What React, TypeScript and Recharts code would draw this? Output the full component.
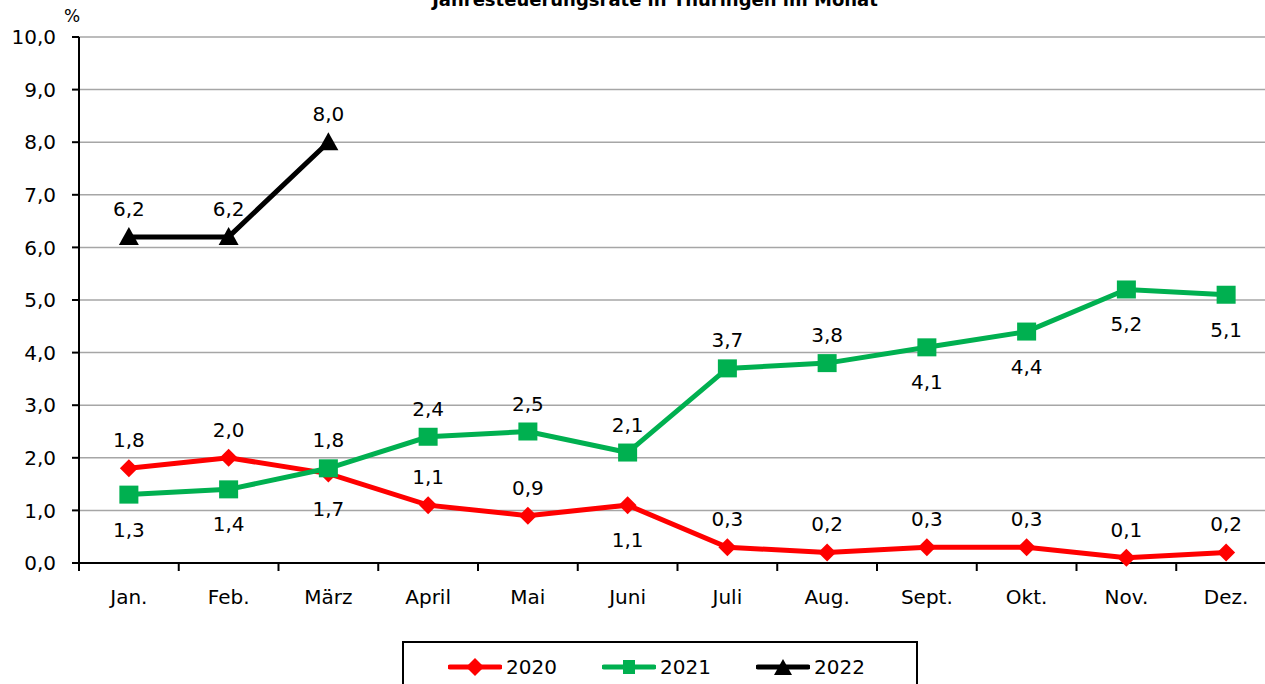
import React from "react";
import { LineChart, Line, XAxis, YAxis, CartesianGrid, LabelList } from "recharts";

// Werte
const monate = ["Jan.", "Feb.", "März", "April", "Mai", "Juni", "Juli", "Aug.", "Sept.", "Okt.", "Nov.", "Dez."];
const werte2020 = [1.8, 2.0, 1.7, 1.1, 0.9, 1.1, 0.3, 0.2, 0.3, 0.3, 0.1, 0.2];
const werte2021 = [1.3, 1.4, 1.8, 2.4, 2.5, 2.1, 3.7, 3.8, 4.1, 4.4, 5.2, 5.1];
const werte2022 = [6.2, 6.2, 8.0];
const yTicks = [0, 1, 2, 3, 4, 5, 6, 7, 8, 9, 10];

// wo das Datenlabel steht (o = oben, u = unten)
const lage2020 = ["o", "o", "u", "o", "o", "u", "o", "o", "o", "o", "o", "o"];
const lage2021 = ["u", "u", "o", "o", "o", "o", "o", "o", "u", "u", "u", "u"];
const lage2022 = ["o", "o", "o"];

const data = monate.map((m, i) => ({
  monat: m,
  j2020: werte2020[i],
  j2021: werte2021[i],
  j2022: i < werte2022.length ? werte2022[i] : null,
}));

const FONT = "'DejaVu Sans', sans-serif";
const CHART_W = 1290;
const CHART_H = 684;
const M = { top: 37, right: 14, bottom: 61, left: 19 };
const Y_W = 60;
const PLOT_W = CHART_W - M.left - M.right - Y_W;
const STEP = PLOT_W / monate.length;

const fmt = (v: number) => v.toFixed(1).replace(".", ",");

const XTick = (props: any) => {
  const { x, y, payload, index } = props;
  return (
    <g>
      <line x1={x - STEP / 2} x2={x - STEP / 2} y1={y} y2={y + 8} stroke="#000" strokeWidth={2} />
      {index === monate.length - 1 && (
        <line x1={x + STEP / 2} x2={x + STEP / 2} y1={y} y2={y + 8} stroke="#000" strokeWidth={2} />
      )}
      <text x={x} y={y + 34} textAnchor="middle" dominantBaseline="central" fontSize={20} fontFamily={FONT} fill="#000">
        {payload.value}
      </text>
    </g>
  );
};

const makeLabel = (lage: string[]) => (props: any) => {
  const { x, y, value, index } = props;
  if (value == null) return null;
  const oben = lage[index] === "o";
  return (
    <text
      x={x}
      y={oben ? y - 28 : y + 35}
      textAnchor="middle"
      dominantBaseline="central"
      fontSize={20}
      fontFamily={FONT}
      fill="#000"
    >
      {fmt(value)}
    </text>
  );
};

const Raute = (props: any) => {
  const { cx, cy } = props;
  if (cy == null) return null;
  const r = 9;
  return <polygon points={`${cx},${cy - r} ${cx + r},${cy} ${cx},${cy + r} ${cx - r},${cy}`} fill="#ff0000" />;
};

const Quadrat = (props: any) => {
  const { cx, cy } = props;
  if (cy == null) return null;
  return <rect x={cx - 9.5} y={cy - 9} width={19} height={18} fill="#00b050" />;
};

const Dreieck = (props: any) => {
  const { cx, cy } = props;
  if (cy == null) return null;
  return <polygon points={`${cx},${cy - 10} ${cx + 10},${cy + 8} ${cx - 10},${cy + 8}`} fill="#000" />;
};

const legendItems = [
  { name: "2020", color: "#ff0000", marker: "raute" },
  { name: "2021", color: "#00b050", marker: "quadrat" },
  { name: "2022", color: "#000000", marker: "dreieck" },
];

const LegendIcon = ({ color, marker }: { color: string; marker: string }) => (
  <svg width={54} height={22} style={{ display: "block" }}>
    <line x1={2} x2={52} y1={11} y2={11} stroke={color} strokeWidth={5} strokeLinecap="round" />
    {marker === "raute" && <polygon points="27,2 36,11 27,20 18,11" fill={color} />}
    {marker === "quadrat" && <rect x={21} y={4} width={12} height={14} fill={color} />}
    {marker === "dreieck" && <polygon points="27,3 36,19 18,19" fill={color} />}
  </svg>
);

export default function App() {
  return (
    <div style={{ position: "absolute", left: 0, top: 0, width: 1265, height: 684, overflow: "hidden", background: "#fff" }}>
      <div
        style={{
          position: "absolute",
          top: -9,
          left: 0,
          width: 1310,
          textAlign: "center",
          fontFamily: FONT,
          fontWeight: "bold",
          fontSize: 18,
          lineHeight: "18px",
        }}
      >
        Jahresteuerungsrate in Thüringen im Monat
      </div>
      <div style={{ position: "absolute", left: 64, top: 8, fontFamily: FONT, fontSize: 17, lineHeight: "17px" }}>%</div>
      <LineChart width={CHART_W} height={CHART_H} data={data} margin={M}>
        <CartesianGrid vertical={false} stroke="#a6a6a6" strokeWidth={1.5} />
        <XAxis
          dataKey="monat"
          height={60}
          padding={{ left: STEP / 2, right: STEP / 2 }}
          axisLine={{ stroke: "#000", strokeWidth: 2 }}
          tickLine={false}
          tickSize={0}
          tickMargin={0}
          interval={0}
          tick={<XTick />}
        />
        <YAxis
          width={Y_W}
          domain={[0, 10]}
          ticks={yTicks}
          interval={0}
          tickFormatter={fmt}
          axisLine={{ stroke: "#000", strokeWidth: 2 }}
          tickLine={{ stroke: "#000", strokeWidth: 2 }}
          tickSize={7}
          tickMargin={16}
          tick={{ fontSize: 20, fontFamily: FONT, fill: "#000" }}
        />
        <Line dataKey="j2020" stroke="#ff0000" strokeWidth={5} dot={<Raute />} activeDot={false} isAnimationActive={false}>
          <LabelList dataKey="j2020" content={makeLabel(lage2020)} />
        </Line>
        <Line dataKey="j2021" stroke="#00b050" strokeWidth={5} dot={<Quadrat />} activeDot={false} isAnimationActive={false}>
          <LabelList dataKey="j2021" content={makeLabel(lage2021)} />
        </Line>
        <Line dataKey="j2022" stroke="#000" strokeWidth={5} dot={<Dreieck />} activeDot={false} isAnimationActive={false}>
          <LabelList dataKey="j2022" content={makeLabel(lage2022)} />
        </Line>
      </LineChart>
      <div
        style={{
          position: "absolute",
          left: 402,
          top: 641,
          width: 512,
          height: 60,
          border: "2px solid #000",
          background: "#fff",
        }}
      >
        {legendItems.map((it, i) => (
          <div
            key={it.name}
            style={{
              position: "absolute",
              left: 44 + i * 154,
              top: 12,
              display: "flex",
              alignItems: "center",
              fontFamily: FONT,
              fontSize: 20,
            }}
          >
            <LegendIcon color={it.color} marker={it.marker} />
            <span style={{ marginLeft: 4 }}>{it.name}</span>
          </div>
        ))}
      </div>
    </div>
  );
}
